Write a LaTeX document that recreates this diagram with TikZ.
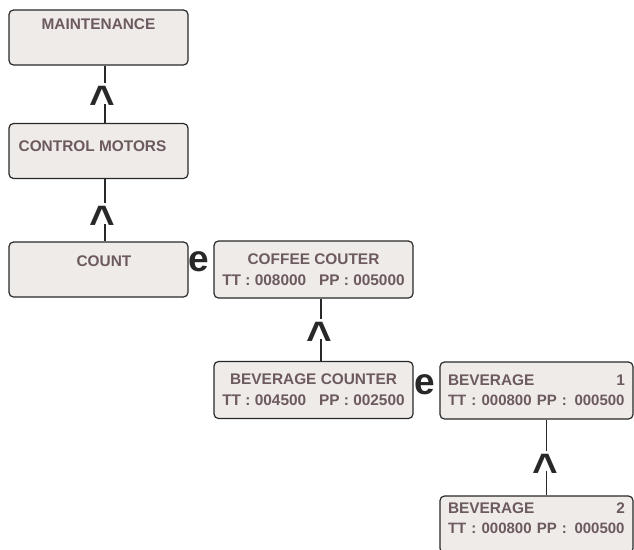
\documentclass[tikz,border=0pt]{standalone}
\usepackage{fontspec}
\setmainfont{Liberation Sans}
\usepackage{xcolor}
\usetikzlibrary{calc,positioning}
\definecolor{boxfill}{RGB}{239,235,232}
\definecolor{boxtext}{RGB}{108,90,95}
\definecolor{boxline}{RGB}{40,40,40}
\newcommand{\upglyph}{\raisebox{-0.526em}{\^{}}}
\newcommand{\numline}[1]{\mbox{\fontsize{15}{20}\selectfont #1}}
\tikzset{
  menubox/.style={draw=boxline, line width=1.2pt, rounded corners=4.5pt, fill=boxfill, text=boxtext, font=\fontsize{15.4}{21}\selectfont\bfseries, align=center, inner sep=0pt},
  leftbox/.style={menubox, minimum width=179pt, minimum height=55pt},
  cntbox/.style={menubox, minimum width=199pt, minimum height=57pt},
  bevbox/.style={menubox, minimum width=193pt, minimum height=57pt, text width=177pt, align=left, font=\fontsize{15.4}{20}\selectfont\bfseries},
  upmark/.style={font=\fontsize{44}{44}\selectfont\bfseries, text=boxline, inner xsep=0pt, inner ysep=8pt, text height=0.2em, text depth=0.2em},
  entermark/.style={font=\fontsize{37}{37}\selectfont\bfseries, text=boxline, inner sep=0pt, text height=0.54em, text depth=0pt},
  link/.style={draw=boxline, line width=1.3pt}
}
\begin{document}
\begin{tikzpicture}[x=1pt,y=-1pt]
\useasboundingbox (0,0) rectangle (634,549);
% left column
\node[leftbox] (maint) at (98.5,37.5) {MAINTENANCE\\[5pt]\mbox{}};
\node[leftbox] (motors) at (98.5,151) {\hspace*{-12pt}CONTROL MOTORS\\[-11pt]\mbox{}};
\node[leftbox] (count) at (98.5,269.5) {\hspace*{11pt}COUNT\\[-4pt]\mbox{}};
\node[upmark] (up1) at (102,93.5) {\upglyph};
\node[upmark] (up2) at (102,213.5) {\upglyph};
% counters
\node[cntbox] (coffee) at (313.5,269.5) {COFFEE COUTER\\TT : 008000\ \ \ PP : 005000};
\node[cntbox] (bevcount) at (313.5,390) {BEVERAGE COUNTER\\TT : 004500\ \ \ PP : 002500};
\node[upmark] (up3) at (319,329) {\upglyph};
\node[entermark] (enter1) at (199,269) {e};
% beverages
\node[bevbox] (bev1) at (536.5,390.5) {BEVERAGE\hfill 1\\\numline{TT : 000800 PP :\ \,000500}};
\node[bevbox] (bev2) at (536.5,524.5) {BEVERAGE\hfill 2\\\numline{TT : 000800 PP :\ \,000500}\\[-7pt]\mbox{}};
\node[upmark] (up4) at (545,461) {\upglyph};
\node[entermark] (enter2) at (425,392) {e};

\draw[link] ([xshift=6.5pt]maint.south) -- ([xshift=3pt]up1.north);
\draw[link] ([xshift=3pt]up1.south) -- ([xshift=6.5pt]motors.north);
\draw[link] ([xshift=6.5pt]motors.south) -- ([xshift=3pt]up2.north);
\draw[link] ([xshift=3pt]up2.south) -- ([xshift=6.5pt]count.north);
\draw[link] ([xshift=7.5pt]coffee.south) -- ([xshift=2pt]up3.north);
\draw[link] ([xshift=2pt]up3.south) -- ([xshift=7.5pt]bevcount.north);
\draw[link] ([xshift=10pt]bev1.south) -- ([xshift=1.5pt]up4.north);
\draw[link] ([xshift=1.5pt]up4.south) -- ([xshift=10pt]bev2.north);
\end{tikzpicture}
\end{document}
